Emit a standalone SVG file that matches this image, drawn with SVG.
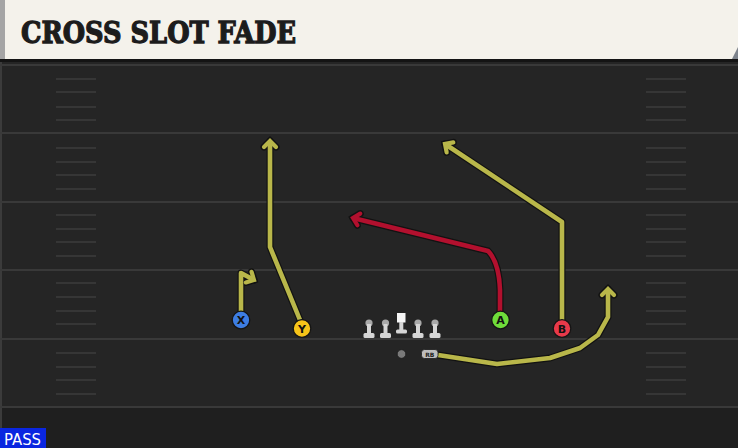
<svg xmlns="http://www.w3.org/2000/svg" width="738" height="448" viewBox="0 0 738 448">
<defs>
<style>
.yard{stroke:#393939;stroke-width:2;fill:none}
.hash{stroke:#363636;stroke-width:2;fill:none}
.ol{fill:none;stroke:#121212;stroke-width:7;stroke-linejoin:round;stroke-linecap:round}
.ry{fill:none;stroke:#b9b74a;stroke-width:4.6;stroke-linejoin:round;stroke-linecap:butt}
.rr{fill:none;stroke:#b2102e;stroke-width:4.6;stroke-linejoin:round;stroke-linecap:butt}
.pl{stroke:#151515;stroke-width:1.3}
.lbl{font-family:"DejaVu Sans",sans-serif;font-weight:bold;font-size:11px;fill:#111;text-anchor:middle}
.lm{fill:#d6d6d6}
.lh{fill:#a9a9a9}
</style>
<marker id="aO" markerUnits="userSpaceOnUse" markerWidth="20" markerHeight="20" refX="0" refY="0" viewBox="-10 -10 20 20" orient="auto" overflow="visible">
<path d="M-6,-6 L0,0 L-6,6" fill="none" stroke="#121212" stroke-width="7" stroke-linejoin="miter" stroke-linecap="round"/>
</marker>
<marker id="aY" markerUnits="userSpaceOnUse" markerWidth="20" markerHeight="20" refX="0" refY="0" viewBox="-10 -10 20 20" orient="auto" overflow="visible">
<path d="M-6,-6 L0,0 L-6,6" fill="none" stroke="#b9b74a" stroke-width="4.2" stroke-linejoin="miter" stroke-linecap="round"/>
</marker>
<marker id="aR" markerUnits="userSpaceOnUse" markerWidth="20" markerHeight="20" refX="0" refY="0" viewBox="-10 -10 20 20" orient="auto" overflow="visible">
<path d="M-6,-6 L0,0 L-6,6" fill="none" stroke="#b2102e" stroke-width="4.2" stroke-linejoin="miter" stroke-linecap="round"/>
</marker>
</defs>

<!-- field -->
<rect x="0" y="0" width="738" height="448" fill="#252525"/>
<rect x="0" y="407" width="738" height="41" fill="#1f1f1f"/>
<rect x="0" y="60" width="2" height="388" fill="#3b3b3b"/>
<g id="yardlines">
<line class="yard" x1="0" y1="65" x2="738" y2="65" stroke="#303030"/>
<line class="yard" x1="0" y1="133" x2="738" y2="133"/>
<line class="yard" x1="0" y1="202" x2="738" y2="202"/>
<line class="yard" x1="0" y1="270" x2="738" y2="270"/>
<line class="yard" x1="0" y1="339" x2="738" y2="339"/>
<line class="yard" x1="0" y1="407" x2="738" y2="407" stroke="#303030"/>
</g>
<g id="hashes">
<path class="hash" d="M56,79H96M56,92H96M56,107H96M56,120H96
M56,148H96M56,162H96M56,175H96M56,189H96
M56,215H96M56,229H96M56,242H96M56,256H96
M56,283H96M56,297H96M56,311H96M56,324H96
M56,353H96M56,367H96M56,380H96M56,394H96
M646,79H686M646,92H686M646,107H686M646,120H686
M646,148H686M646,162H686M646,175H686M646,189H686
M646,215H686M646,229H686M646,242H686M646,256H686
M646,283H686M646,297H686M646,311H686M646,324H686
M646,353H686M646,367H686M646,380H686M646,394H686"/>
</g>

<!-- header -->
<g id="header">
<rect x="0" y="58" width="738" height="4" fill="#141414"/>
<rect x="0" y="0" width="738" height="59" fill="#f4f2eb"/>
<rect x="0" y="0" width="5" height="59" fill="#a5a5a5"/>
<polygon points="732,59 738,47 738,59" fill="#7d838c"/>
<text x="21" y="43" font-family="'DejaVu Serif',serif" font-weight="bold" font-size="30" fill="#1c1c1c" stroke="#1c1c1c" stroke-width="1.3" stroke-linejoin="miter" textLength="275" lengthAdjust="spacingAndGlyphs">CROSS SLOT FADE</text>
</g>

<!-- routes -->
<g id="routes">
<path class="ol" d="M241,312 L241,273 L254,280" marker-end="url(#aO)"/>
<path class="ry" d="M241,312 L241,273 L254,280" marker-end="url(#aY)"/>
<path class="ol" d="M300,320 L270,247 L270,141" marker-end="url(#aO)"/>
<path class="ry" d="M300,320 L270,247 L270,141" marker-end="url(#aY)"/>
<path class="ol" d="M500,312 L500,290 Q499,262 488,251 L353,218" marker-end="url(#aO)"/>
<path class="rr" d="M500,312 L500,290 Q499,262 488,251 L353,218" marker-end="url(#aR)"/>
<path class="ol" d="M562,320 L562,222 L445,144" marker-end="url(#aO)"/>
<path class="ry" d="M562,320 L562,222 L445,144" marker-end="url(#aY)"/>
<path class="ol" d="M438,355 L497,364 L550,358 L580,348 L598,335 L608,317 L608,289" marker-end="url(#aO)"/>
<path class="ry" d="M438,355 L497,364 L550,358 L580,348 L598,335 L608,317 L608,289" marker-end="url(#aY)"/>
</g>

<!-- offensive line -->
<g id="LT"><circle class="lh" cx="369" cy="323" r="3.6"/><rect class="lm" x="367" y="324" width="4" height="10"/><rect class="lm" x="363.5" y="333" width="11" height="5" rx="1.5"/></g>
<g id="LG"><circle class="lh" cx="385.5" cy="323" r="3.6"/><rect class="lm" x="383.5" y="324" width="4" height="10"/><rect class="lm" x="380" y="333" width="11" height="5" rx="1.5"/></g>
<g id="C"><rect x="397" y="313" width="8.5" height="9.5" fill="#f6f6f6"/><rect class="lm" x="399.3" y="322" width="4" height="8"/><rect class="lm" x="396" y="329.5" width="11" height="4" rx="1.5"/></g>
<g id="RG"><circle class="lh" cx="418" cy="323" r="3.6"/><rect class="lm" x="416" y="324" width="4" height="10"/><rect class="lm" x="412.5" y="333" width="11" height="5" rx="1.5"/></g>
<g id="RT"><circle class="lh" cx="435" cy="323" r="3.6"/><rect class="lm" x="433" y="324" width="4" height="10"/><rect class="lm" x="429.5" y="333" width="11" height="5" rx="1.5"/></g>
<g id="QB"><circle cx="401.5" cy="354" r="4.3" fill="#7a7a7a" stroke="#1a1a1a" stroke-width="0.8"/></g>
<g id="RB"><rect x="421.5" y="349.5" width="16.5" height="9" rx="3" fill="#bdbdbd" stroke="#1a1a1a" stroke-width="0.8"/><text x="429.8" y="357" font-family="'DejaVu Sans',sans-serif" font-weight="bold" font-size="6" fill="#222" text-anchor="middle">RB</text></g>

<!-- receivers -->
<g id="X"><circle class="pl" cx="241" cy="320" r="8.8" fill="#3d7de2"/><text class="lbl" x="241" y="324">X</text></g>
<g id="Y"><circle class="pl" cx="302" cy="328.5" r="8.8" fill="#f6c419"/><text class="lbl" x="302" y="332.5">Y</text></g>
<g id="A"><circle class="pl" cx="500.5" cy="320" r="8.8" fill="#6fdc3a"/><text class="lbl" x="500.5" y="324">A</text></g>
<g id="B"><circle class="pl" cx="562" cy="328.5" r="8.8" fill="#e8394a"/><text class="lbl" x="562" y="332.5">B</text></g>

<!-- play type -->
<g id="pass">
<rect x="0" y="428" width="46" height="20" fill="#0a26e0"/>
<text x="4" y="445" font-family="'DejaVu Sans',sans-serif" font-size="16" fill="#ffffff" textLength="37" lengthAdjust="spacingAndGlyphs">PASS</text>
</g>
</svg>
